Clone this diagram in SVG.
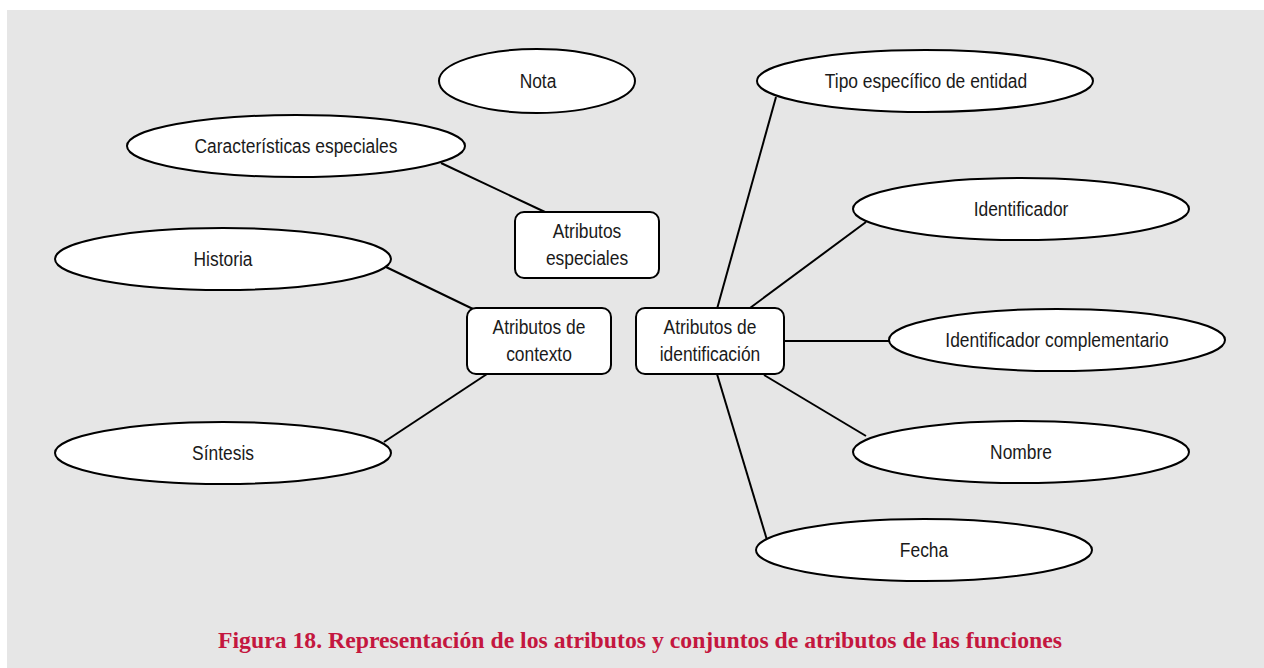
<svg xmlns="http://www.w3.org/2000/svg" width="1264" height="668" viewBox="0 0 1264 668">
<style>
.e{fill:#fff;stroke:#000;stroke-width:2}
.r{fill:#fff;stroke:#000;stroke-width:2}
.t{font-family:"Liberation Sans",Arial,sans-serif;font-size:20px;fill:#1a1a1a;text-anchor:middle}
.c{stroke:#000;stroke-width:2;fill:none}
.cap{font-family:"Liberation Serif","Times New Roman",serif;font-weight:bold;font-size:23px;fill:#c4173f;text-anchor:middle}
</style>
<rect x="7" y="10" width="1257" height="658" fill="#e6e6e6"/>
<g id="connectors">
<line class="c" x1="441" y1="163" x2="545" y2="212"/>
<line class="c" x1="386" y1="267" x2="473" y2="309"/>
<line class="c" x1="384" y1="442" x2="487" y2="374"/>
<line class="c" x1="776" y1="97" x2="717" y2="309"/>
<line class="c" x1="866" y1="222" x2="750" y2="308"/>
<line class="c" x1="784" y1="341" x2="889" y2="341"/>
<line class="c" x1="764" y1="375" x2="866" y2="436"/>
<line class="c" x1="717" y1="374" x2="767" y2="540"/>
</g>
<g id="nota"><ellipse class="e" cx="537" cy="81" rx="98" ry="32"/><text class="t" transform="translate(538,88) scale(0.87,1)">Nota</text></g>
<g id="caracteristicas"><ellipse class="e" cx="296" cy="146" rx="169" ry="31"/><text class="t" transform="translate(296,153) scale(0.87,1)">Características especiales</text></g>
<g id="historia"><ellipse class="e" cx="223" cy="259" rx="168" ry="31"/><text class="t" transform="translate(223,266) scale(0.87,1)">Historia</text></g>
<g id="sintesis"><ellipse class="e" cx="223" cy="453" rx="168" ry="31"/><text class="t" transform="translate(223,460) scale(0.87,1)">Síntesis</text></g>
<g id="tipo"><ellipse class="e" cx="925" cy="81" rx="168" ry="31"/><text class="t" transform="translate(926,88) scale(0.87,1)">Tipo específico de entidad</text></g>
<g id="identificador"><ellipse class="e" cx="1021" cy="209" rx="168" ry="31"/><text class="t" transform="translate(1021,216) scale(0.87,1)">Identificador</text></g>
<g id="identificador-complementario"><ellipse class="e" cx="1057" cy="340" rx="168" ry="31"/><text class="t" transform="translate(1057,347) scale(0.87,1)">Identificador complementario</text></g>
<g id="nombre"><ellipse class="e" cx="1021" cy="452" rx="168" ry="31"/><text class="t" transform="translate(1021,459) scale(0.87,1)">Nombre</text></g>
<g id="fecha"><ellipse class="e" cx="924" cy="550" rx="168" ry="31"/><text class="t" transform="translate(924,557) scale(0.87,1)">Fecha</text></g>
<g id="atributos-especiales"><rect class="r" x="515" y="212" width="144" height="66" rx="9"/><text class="t" transform="translate(587,238) scale(0.87,1)">Atributos</text><text class="t" transform="translate(587,265) scale(0.87,1)">especiales</text></g>
<g id="atributos-contexto"><rect class="r" x="467" y="308" width="144" height="66" rx="9"/><text class="t" transform="translate(539,334) scale(0.87,1)">Atributos de</text><text class="t" transform="translate(539,361) scale(0.87,1)">contexto</text></g>
<g id="atributos-identificacion"><rect class="r" x="636" y="308" width="148" height="66" rx="9"/><text class="t" transform="translate(710,334) scale(0.87,1)">Atributos de</text><text class="t" transform="translate(710,361) scale(0.87,1)">identificación</text></g>
<text class="cap" x="640" y="648" textLength="844" lengthAdjust="spacingAndGlyphs">Figura 18. Representación de los atributos y conjuntos de atributos de las funciones</text>
</svg>
